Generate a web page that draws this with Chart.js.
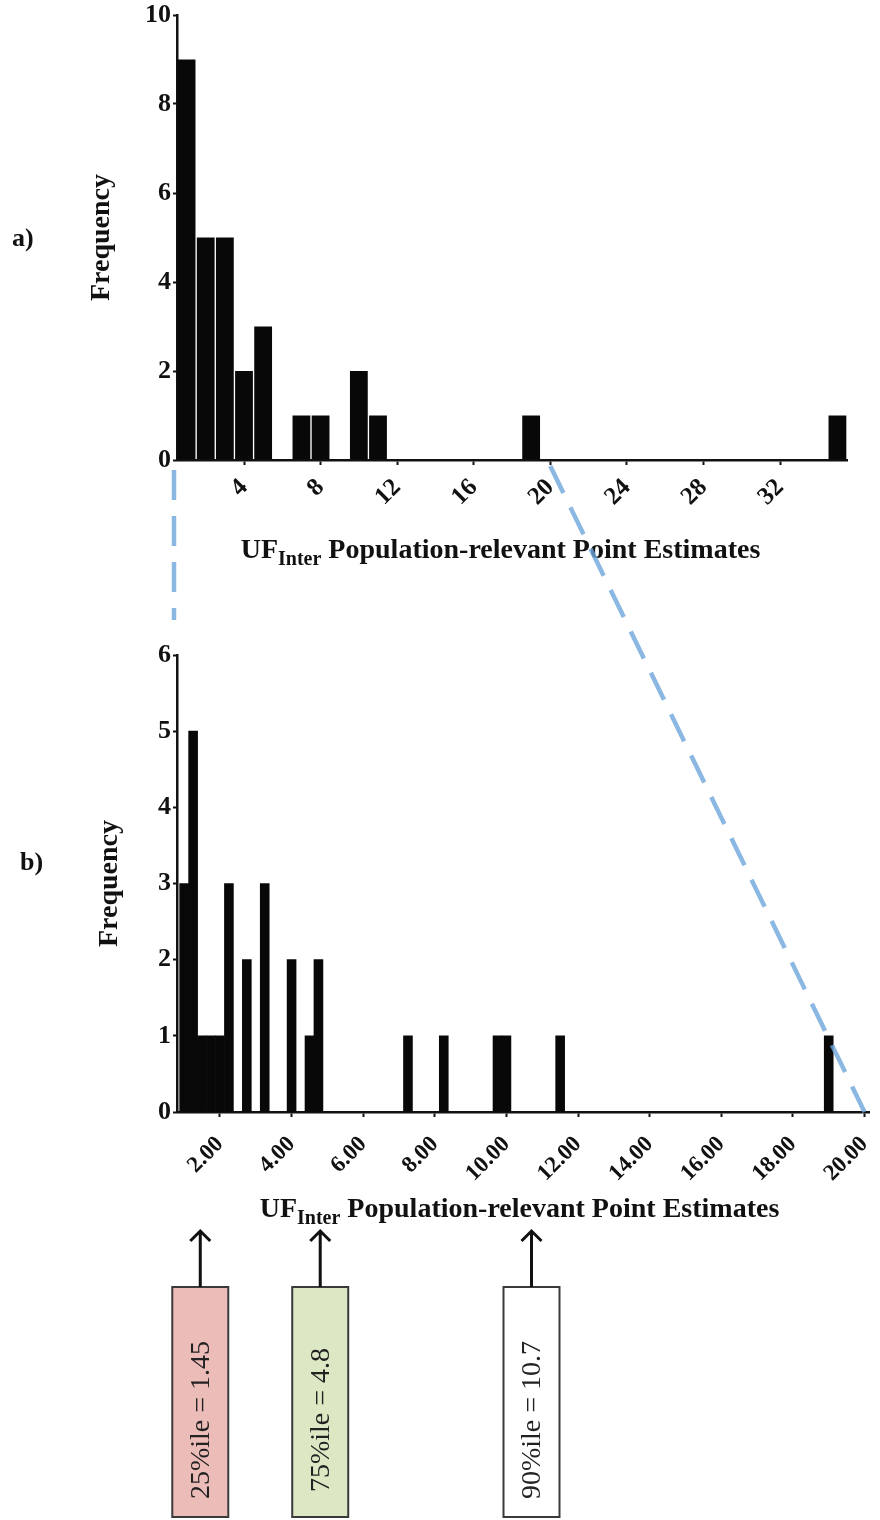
<!DOCTYPE html>
<html>
<head>
<meta charset="utf-8">
<script src="https://cdn.jsdelivr.net/npm/chart.js@4.4.1/dist/chart.umd.min.js"></script>
<style>
  html, body { margin: 0; padding: 0; background: #fff; }
  #wrap { position: relative; width: 880px; height: 1520px; overflow: hidden; background: #fff; }
  canvas { position: absolute; left: 0; }
  #cA { top: 0; }
  #cB { top: 600px; }
  #cOver { top: 0; pointer-events: none; }
  .panel { position: absolute; font: bold 26px "Liberation Serif", serif; color: #111; }
</style>
</head>
<body>
<div id="wrap">
  <canvas id="cA" width="880" height="600"></canvas>
  <canvas id="cB" width="880" height="920"></canvas>
  <canvas id="cOver" width="880" height="1520"></canvas>
  <div class="panel" style="left:12px; top:223px;">a)</div>
  <div class="panel" style="left:20px; top:847px;">b)</div>
</div>
<script>
// Panel a: all point estimates, unit-wide bins centred on integers
const binsA   = [1, 2, 3, 4, 5, 7, 8, 10, 11, 19, 35];
const countsA = [9, 5, 5, 2, 3, 1, 1, 2, 1, 1, 1];
const xTicksA = [4, 8, 12, 16, 20, 24, 28, 32];
const yTicksA = [0, 2, 4, 6, 8, 10];

// Panel b: estimates up to 20, quarter-unit bins
const binsB   = [1.0, 1.25, 1.5, 1.75, 2.0, 2.25, 2.75, 3.25, 4.0, 4.5, 4.75, 7.25, 8.25, 9.75, 10.0, 11.5, 19.0];
const countsB = [3, 5, 1, 1, 1, 3, 2, 3, 2, 1, 2, 1, 1, 1, 1, 1, 1];
const xTicksB = [2, 4, 6, 8, 10, 12, 14, 16, 18, 20];
const yTicksB = [0, 1, 2, 3, 4, 5, 6];

// Percentiles marked beneath panel b
const pctNames  = ['25%ile', '75%ile', '90%ile'];
const pctValues = [1.45, 4.8, 10.7];
const pctFills  = ['#ecbcb8', '#dce8c4', '#ffffff'];

// Range of panel a that panel b expands
const zoomFrom = 0.5;
const zoomTo = 20;

const INK = '#111';
const SERIF = '"Liberation Serif", "Times New Roman", serif';

// x-axis title with a subscript, drawn under the plot area
const axisTitle = {
  id: 'axisTitle',
  afterDraw(chart, args, opts) {
    const ctx = chart.ctx, a = chart.chartArea;
    const mainFont = 'bold 28px ' + SERIF, subFont = 'bold 20px ' + SERIF;
    const p1 = 'UF', p2 = 'Inter', p3 = ' Population-relevant Point Estimates';
    ctx.save();
    ctx.fillStyle = INK;
    ctx.textAlign = 'left';
    ctx.textBaseline = 'alphabetic';
    ctx.font = mainFont;
    const w1 = ctx.measureText(p1).width, w3 = ctx.measureText(p3).width;
    ctx.font = subFont;
    const w2 = ctx.measureText(p2).width;
    let x = (a.left + a.right) / 2 + opts.dx - (w1 + w2 + w3) / 2;
    const y = a.bottom + opts.dy;
    ctx.font = mainFont; ctx.fillText(p1, x, y); x += w1;
    ctx.font = subFont;  ctx.fillText(p2, x, y + 7); x += w2;
    ctx.font = mainFont; ctx.fillText(p3, x, y);
    ctx.restore();
  }
};

// Arrows and boxed labels for the percentiles
const pctMarks = {
  id: 'pctMarks',
  afterDraw(chart, args, opts) {
    const ctx = chart.ctx, xs = chart.scales.x;
    const { tipY, boxTop, boxBottom, boxWidth, textY } = opts;
    ctx.save();
    pctValues.forEach((v, i) => {
      const x = xs.getPixelForValue(v);
      ctx.fillStyle = pctFills[i];
      ctx.fillRect(x - boxWidth / 2, boxTop, boxWidth, boxBottom - boxTop);
      ctx.strokeStyle = '#3a3a3a';
      ctx.lineWidth = 2;
      ctx.strokeRect(x - boxWidth / 2, boxTop, boxWidth, boxBottom - boxTop);

      ctx.strokeStyle = INK;
      ctx.lineWidth = 3;
      ctx.beginPath();
      ctx.moveTo(x, boxTop);
      ctx.lineTo(x, tipY + 1);
      ctx.moveTo(x - 10, tipY + 11);
      ctx.lineTo(x, tipY + 1);
      ctx.lineTo(x + 10, tipY + 11);
      ctx.stroke();

      ctx.save();
      ctx.translate(x, textY);
      ctx.rotate(-Math.PI / 2);
      ctx.fillStyle = '#222';
      ctx.font = '28px ' + SERIF;
      ctx.textAlign = 'center';
      ctx.textBaseline = 'middle';
      ctx.fillText(pctNames[i] + ' = ' + v, 0, 1);
      ctx.restore();
    });
    ctx.restore();
  }
};

function histogram(canvasId, cfg) {
  const tickFont = { family: SERIF, weight: 'bold', size: cfg.xTickSize };
  return new Chart(document.getElementById(canvasId), {
    type: 'bar',
    data: {
      datasets: [{
        data: cfg.bins.map((b, i) => ({ x: b, y: cfg.counts[i] })),
        backgroundColor: '#080808',
        borderWidth: 0,
        barPercentage: cfg.barPct,
        categoryPercentage: 1
      }]
    },
    plugins: cfg.plugins,
    options: {
      responsive: false,
      animation: false,
      devicePixelRatio: 1,
      layout: { padding: cfg.padding },
      plugins: {
        legend: { display: false },
        tooltip: { enabled: false },
        axisTitle: cfg.titlePos,
        pctMarks: cfg.pctPos || {}
      },
      scales: {
        x: {
          type: 'linear',
          min: cfg.xMin,
          max: cfg.xMax,
          offset: false,
          afterBuildTicks: s => { s.ticks = cfg.xTicks.map(v => ({ value: v })); },
          afterFit: s => { s.height = cfg.xHeight; s.paddingLeft = 0; s.paddingRight = 0; },
          grid: { display: true, drawOnChartArea: false, drawTicks: true, tickLength: 5, tickWidth: 2, tickColor: INK, offset: false },
          border: { display: true, color: INK, width: 2.5 },
          ticks: {
            autoSkip: false, minRotation: 45, maxRotation: 45, padding: cfg.xTickPad,
            color: INK, font: tickFont, callback: cfg.xFormat
          }
        },
        y: {
          min: 0,
          max: cfg.yMax,
          afterBuildTicks: s => { s.ticks = cfg.yTicks.map(v => ({ value: v })); },
          afterFit: s => { s.width = cfg.yWidth; s.paddingTop = 0; s.paddingBottom = 0; },
          grid: { display: true, drawOnChartArea: false, drawTicks: true, tickLength: 4, tickWidth: 2, tickColor: INK },
          border: { display: true, color: INK, width: 2.5 },
          ticks: { padding: 2, color: INK, font: { family: SERIF, weight: 'bold', size: 26 } },
          title: {
            display: true, text: 'Frequency', color: INK,
            font: { family: SERIF, weight: 'bold', size: 28 }, padding: { top: 0, bottom: 0 }
          }
        }
      }
    }
  });
}

const chartA = histogram('cA', {
  bins: binsA, counts: countsA, xTicks: xTicksA, yTicks: yTicksA,
  xMin: zoomFrom, xMax: 35.5, yMax: 10, barPct: 0.93,
  xFormat: v => String(v), xTickSize: 25, xTickPad: 8,
  padding: { left: 85, right: 33, top: 15, bottom: 0 },
  yWidth: 92, xHeight: 140,
  titlePos: { dx: -11.5, dy: 98 },
  plugins: [axisTitle]
});

const chartB = histogram('cB', {
  bins: binsB, counts: countsB, xTicks: xTicksB, yTicks: yTicksB,
  xMin: 0.8, xMax: 20.125, yMax: 6, barPct: 1,
  xFormat: v => Number(v).toFixed(2), xTickSize: 23, xTickPad: 14,
  padding: { left: 93, right: 11, top: 55, bottom: 0 },
  yWidth: 84, xHeight: 408,
  titlePos: { dx: -3.5, dy: 105 },
  pctPos: { tipY: 630, boxTop: 687, boxBottom: 917, boxWidth: 56, textY: 820 },
  plugins: [axisTitle, pctMarks]
});

// Dashed connectors showing which part of panel a is expanded in panel b
function drawConnectors() {
  const ctx = document.getElementById('cOver').getContext('2d');
  const topA = 0, topB = 600;
  const ax = chartA.scales.x, bx = chartB.scales.x;
  ctx.save();
  ctx.strokeStyle = 'rgba(110, 165, 220, 0.8)';
  ctx.lineWidth = 4.5;
  ctx.setLineDash([30, 16]);
  const xl = ax.getPixelForValue(zoomFrom) - 3;
  ctx.beginPath();
  ctx.moveTo(xl, topA + chartA.chartArea.bottom + 10);
  ctx.lineTo(xl, topB + chartB.chartArea.top - 35);
  ctx.stroke();
  ctx.beginPath();
  ctx.moveTo(ax.getPixelForValue(zoomTo), topA + chartA.chartArea.bottom + 6);
  ctx.lineTo(bx.getPixelForValue(zoomTo), topB + chartB.chartArea.bottom);
  ctx.stroke();
  ctx.restore();
}
drawConnectors();
</script>
</body>
</html>
